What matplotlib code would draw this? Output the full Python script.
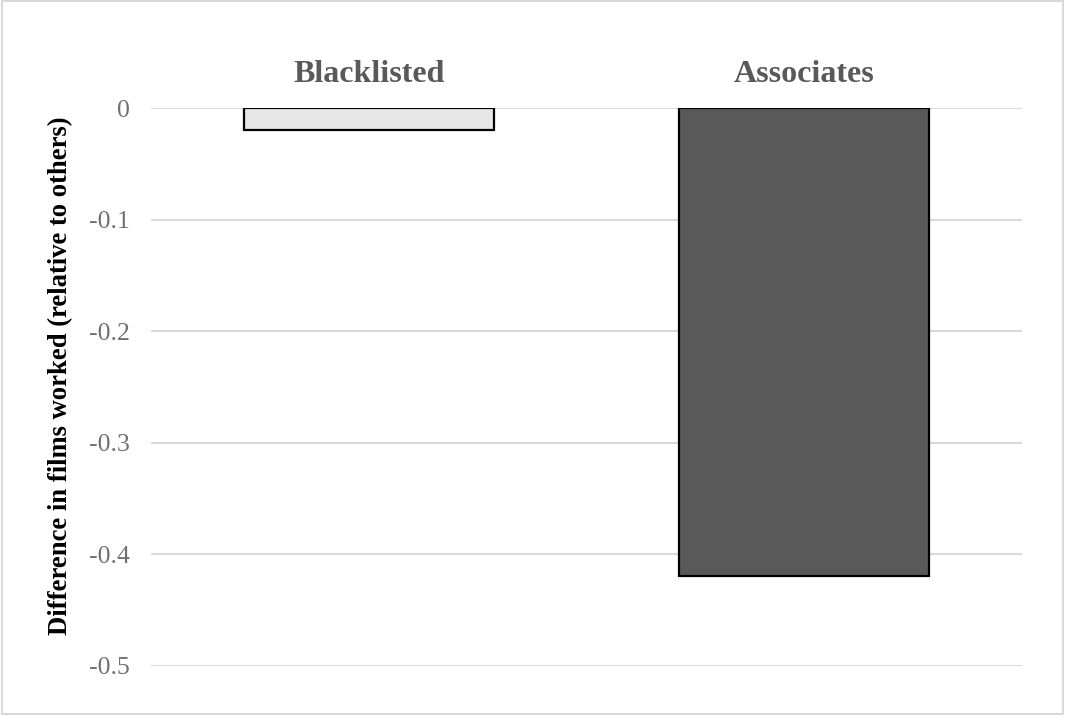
import matplotlib.pyplot as plt
from matplotlib.patches import Rectangle

# Difference in films worked, relative to others
groups = ['Blacklisted', 'Associates']
diffs = [-0.02, -0.42]
bar_colors = ['#e7e7e7', '#595959']
y_ticks = [0, -0.1, -0.2, -0.3, -0.4, -0.5]

plt.rcParams['font.family'] = ['Liberation Serif', 'DejaVu Serif']

fig = plt.figure(figsize=(10.65, 7.15), dpi=100)
ax = fig.add_axes([0.1418, 0.0692, 0.8178, 0.7797])

ax.bar(range(len(groups)), diffs, width=0.574, color=bar_colors,
       edgecolor='black', linewidth=1.6, zorder=3)

ax.set_xlim(-0.5, 1.5)
ax.set_ylim(-0.5, 0)
ax.set_yticks(y_ticks)
ax.set_yticklabels([f'{t:g}' for t in y_ticks])
ax.yaxis.grid(True, color='#d9d9d9', linewidth=1.5, zorder=0)
ax.set_axisbelow(True)

# category names sit above the plot, like an Excel axis at the top
ax.xaxis.tick_top()
ax.set_xticks(range(len(groups)))
ax.set_xticklabels(groups, fontsize=23, fontweight='bold', color='#595959')
ax.tick_params(axis='x', length=0, pad=13.5)
ax.tick_params(axis='y', length=0, pad=15, labelsize=18.5, labelcolor='#707070')

for s in ax.spines.values():
    s.set_visible(False)

ax.set_ylabel('Difference in films worked (relative to others)', fontsize=19.2,
              fontweight='bold', color='black')
ax.yaxis.set_label_coords(-0.089, 0.519)

# thin grey frame around the whole chart
fig.patches.append(Rectangle((0.002, 0.002), 0.996, 0.996, transform=fig.transFigure,
                             fill=False, edgecolor='#d9d9d9', linewidth=1.5))

fig.savefig('out.png', dpi=100, facecolor='white')
